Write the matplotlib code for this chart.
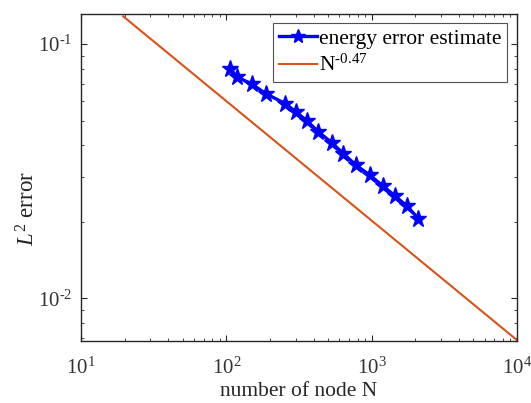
import numpy as np
import matplotlib
matplotlib.use("Agg")
import matplotlib.pyplot as plt
from matplotlib.ticker import LogLocator, FuncFormatter

plt.rcParams['font.family'] = ['Liberation Serif', 'DejaVu Serif']
plt.rcParams['mathtext.fontset'] = 'custom'
plt.rcParams['mathtext.rm'] = 'Liberation Serif'
plt.rcParams['mathtext.it'] = 'Liberation Serif:italic'
plt.rcParams['mathtext.bf'] = 'Liberation Serif:bold'

# number of nodes and estimated energy error
nodes = [106, 119, 150, 187, 254, 302, 361, 430, 531, 639, 781, 975, 1193, 1449, 1761, 2096]
error = [0.0795, 0.0743, 0.0696, 0.0639, 0.0584, 0.0541, 0.0498, 0.0452, 0.0410,
         0.0371, 0.0334, 0.0305, 0.0277, 0.0253, 0.0230, 0.0206]

# reference rate
rate = 0.47
ref_const = 0.52
ref_range = [19.5, 1e4]

x_limits = [10, 1e4]
y_limits = [0.0068, 0.132]

fig = plt.figure(figsize=(5.31, 4.03), dpi=100)
ax = fig.add_axes([0.1525, 0.1538, 0.8211, 0.8127])

ax.loglog(nodes, error, color=(0, 0, 1), lw=2.4, marker='*', ms=12.5,
          mec=(0, 0, 1), mfc=(0, 0, 1), label='energy error estimate')

nref = np.logspace(np.log10(ref_range[0]), np.log10(ref_range[1]), 100)
ax.loglog(nref, ref_const * nref ** (-rate), color=(0.85, 0.325, 0.098), lw=1.5,
          label='N$^{\\mathregular{\u2010}0.47}$')

ax.set_xlim(x_limits)
ax.set_ylim(y_limits)

axis_col = (0.15, 0.15, 0.15)
for s in ax.spines.values():
    s.set_color(axis_col)
    s.set_linewidth(1.0)


def pow10(v, pos):
    e = int(round(np.log10(v)))
    sign = '\u2010' if e < 0 else ''
    return '10$^{\\mathregular{%s%d}}$' % (sign, abs(e))


ax.xaxis.set_major_locator(LogLocator(base=10, numticks=10))
ax.xaxis.set_minor_locator(LogLocator(base=10, subs=np.arange(2, 10), numticks=20))
ax.yaxis.set_major_locator(LogLocator(base=10, numticks=10))
ax.yaxis.set_minor_locator(LogLocator(base=10, subs=np.arange(2, 10), numticks=20))
ax.xaxis.set_major_formatter(FuncFormatter(pow10))
ax.yaxis.set_major_formatter(FuncFormatter(pow10))

ax.tick_params(which='both', direction='in', top=True, right=True,
               colors=axis_col, labelcolor=(0.2, 0.2, 0.2), labelsize=15)
ax.tick_params(which='major', length=4, width=0.8)
ax.tick_params(which='minor', length=2.2, width=0.6)
ax.tick_params(axis='x', pad=12)
ax.tick_params(axis='y', pad=6)

ax.set_xlabel('number of node N', fontsize=15.5, color=(0.15, 0.15, 0.15))
ax.xaxis.set_label_coords(0.5, -0.124)
ax.xaxis.label.set_va('top')
ax.set_ylabel('$L^{\\mathregular{2}}$ error', fontsize=16.5, color=(0.15, 0.15, 0.15))
ax.yaxis.set_label_coords(-0.095, 0.405)

leg = ax.legend(loc='upper right', fontsize=15.5, frameon=True, fancybox=False,
                edgecolor=(0.15, 0.15, 0.15), borderpad=0.25, handlelength=1.8,
                handletextpad=0.1, labelspacing=0.3, borderaxespad=0.45,
                markerscale=0.85)
leg.get_frame().set_linewidth(0.8)

fig.savefig('out.png', dpi=100)
